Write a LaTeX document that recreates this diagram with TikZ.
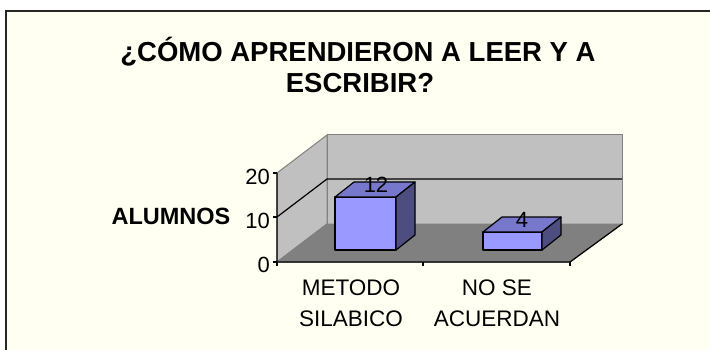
\documentclass[tikz,border=0pt]{standalone}
\usepackage{fontspec}
\setmainfont{Liberation Sans}
\usetikzlibrary{positioning}
\definecolor{fons}{HTML}{FFFFF2}
\definecolor{gris-paret}{HTML}{C0C0C0}
\definecolor{gris-terra}{HTML}{808080}
\definecolor{blau-front}{HTML}{9999FF}
\definecolor{blau-dalt}{HTML}{7777CC}
\definecolor{blau-costat}{HTML}{4D4D80}
\tikzset{
  paret/.style={fill=gris-paret, draw=gris-terra, line width=1pt},
  terra/.style={fill=gris-terra, draw=gris-terra, line width=1pt},
  eix/.style={draw=black, line width=1.2pt},
  barra/.style={draw=black, line width=1.2pt, line join=round},
  text-eix/.style={font=\fontsize{22}{26}\selectfont, inner sep=0pt},
  text-cat/.style={font=\fontsize{22.5}{27}\selectfont, inner sep=0pt, anchor=base},
  valor/.style={font=\fontsize{22}{26}\selectfont, inner sep=0pt}
}

\begin{document}
\begin{tikzpicture}[x=1pt, y=-1pt]
      \useasboundingbox (0,0) rectangle (710,350);
      \fill[white] (0,0) rectangle (710,350);
      \fill[fons] (6,11) rectangle (710,350);
      \draw[line width=2pt, draw=black!85] (6,350) -- (6,11) -- (710,11);

      \node[anchor=base, inner sep=0pt, font=\bfseries\fontsize{27.5}{32}\selectfont] (titol-1) at (358,62) {¿CÓMO APRENDIERON A LEER Y A};
      \node[anchor=base, inner sep=0pt, font=\bfseries\fontsize{27.5}{32}\selectfont] (titol-2) at (360,93) {ESCRIBIR?};

      % parets i terra
      \coordinate (zero) at (277,262);
      \coordinate (zero-fons) at (327,224);
      \coordinate (dreta) at (570,262);
      \coordinate (dreta-fons) at (622,224);
      \coordinate (vint) at (277,173);
      \coordinate (vint-fons) at (327,135);
      \coordinate (vint-dreta) at (622,135);
      \draw[paret] (vint-fons) rectangle (dreta-fons);
      \draw[paret] (vint) -- (vint-fons) -- (zero-fons) -- (zero) -- cycle;
      \draw[terra] (zero) -- (zero-fons) -- (dreta-fons) -- (dreta) -- cycle;
      \draw[eix] (277,217) -- (327,179) -- (622,179);
      \draw[eix] (vint) -- (zero) -- (dreta) -- (dreta-fons);
      \draw[eix] (273,173) -- (vint) (273,217) -- (277,217) (273,262) -- (zero);
      \draw[eix] (zero) -- ++(0,4) (423,262) -- ++(0,4) (dreta) -- ++(0,4);

      \node[text-eix, anchor=east] (eix-20) at (270,177) {20};
      \node[text-eix, anchor=east] (eix-10) at (270,221) {10};
      \node[text-eix, anchor=east] (eix-0) at (270,265) {0};
      \node[anchor=base, inner sep=0pt, font=\bfseries\fontsize{23.5}{28}\selectfont] (alumnes) at (171,225) {ALUMNOS};

      % barres
      \draw[barra, fill=blau-front] (335,197) rectangle (396,250);
      \draw[barra, fill=blau-dalt] (335,197) -- (354,182) -- (415,182) -- (396,197) -- cycle;
      \draw[barra, fill=blau-costat] (396,197) -- (415,182) -- (415,235) -- (396,250) -- cycle;
      \draw[barra, fill=blau-front] (483,232) rectangle (542,250);
      \draw[barra, fill=blau-dalt] (483,232) -- (502,217) -- (561,217) -- (542,232) -- cycle;
      \draw[barra, fill=blau-costat] (542,232) -- (561,217) -- (561,235) -- (542,250) -- cycle;
      \node[valor] (valor-metode) at (376,185) {12};
      \node[valor] (valor-no) at (522,220) {4};

      \node[text-cat] (metode-1) at (351,295) {METODO};
      \node[text-cat] (metode-2) at (351,326) {SILABICO};
      \node[text-cat] (no-1) at (497,295) {NO SE};
      \node[text-cat] (no-2) at (497,326) {ACUERDAN};
\end{tikzpicture}
\end{document}
